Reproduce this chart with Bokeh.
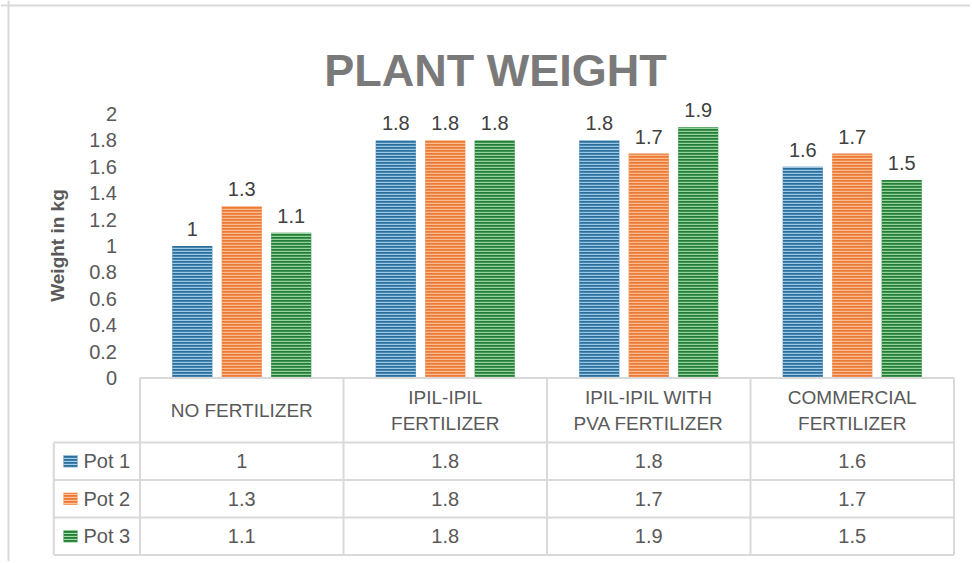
import math
from bokeh.plotting import figure
from bokeh.models import Range1d, LinearAxis, FixedTicker, ColumnDataSource, Label, Span
from bokeh.embed import file_html
from bokeh.resources import INLINE
from bokeh.core.properties import value

# ---------------- data ----------------
categories = ["NO FERTILIZER", "IPIL-IPIL FERTILIZER",
              "IPIL-IPIL WITH PVA FERTILIZER", "COMMERCIAL FERTILIZER"]
category_lines = [["NO FERTILIZER"], ["IPIL-IPIL", "FERTILIZER"],
                  ["IPIL-IPIL WITH", "PVA FERTILIZER"], ["COMMERCIAL", "FERTILIZER"]]
series_names = ["Pot 1", "Pot 2", "Pot 3"]
pot1 = [1.0, 1.8, 1.8, 1.6]
pot2 = [1.3, 1.8, 1.7, 1.7]
pot3 = [1.1, 1.8, 1.9, 1.5]
y_ticks = [0, 0.2, 0.4, 0.6, 0.8, 1, 1.2, 1.4, 1.6, 1.8, 2]
y_tick_labels = ["0", "0.2", "0.4", "0.6", "0.8", "1", "1.2", "1.4", "1.6", "1.8", "2"]

# ---------------- styles ----------------
fill_colors = ["#2c6e9c", "#ec7a35", "#237d36"]
stripe_colors = ["#a6d2ee", "#fcc39d", "#a3dba9"]
FONT = "Liberation Sans"
TXT = "#595959"
GRID = "#d9d9d9"

W, H = 970, 561
# layout (canvas pixel geometry -> data units)
X0, XS = 139.5, 203.5     # x=0 at canvas px 139.5, one category = 203.5 px
Y0, YS = 377.5, 132.0     # y=0 at canvas px 377.5, one unit = 132 px
def dx(px): return (px - X0) / XS
def dy(py): return (Y0 - py) / YS

p = figure(width=W, height=H, output_backend="svg", toolbar_location=None,
           x_axis_location=None, y_axis_location=None,
           x_range=Range1d(dx(0), dx(W)), y_range=Range1d(dy(H), dy(0)),
           min_border=0, outline_line_color=None,
           background_fill_color="white", border_fill_color="white")
p.grid.grid_line_color = None

# y axis placed at x = 0
yaxis = LinearAxis(fixed_location=0, ticker=FixedTicker(ticks=y_ticks),
                   major_label_overrides={t: l for t, l in zip(y_ticks, y_tick_labels)},
                   axis_line_color=None, major_tick_line_color=None,
                   minor_tick_line_color=None, major_tick_out=0, major_tick_in=0,
                   major_label_standoff=23,
                   major_label_text_font=FONT, major_label_text_font_size="20px",
                   major_label_text_color=TXT)
p.add_layout(yaxis, "left")

# bars
offsets = [-0.243, 0.0, 0.243]
bar_w = 0.197
all_series = [pot1, pot2, pot3]
for s, vals in enumerate(all_series):
    xs = [i + 0.5 + offsets[s] for i in range(len(categories))]
    src = ColumnDataSource(dict(x=xs, top=vals, lab=[f"{v:g}" for v in vals]))
    p.vbar(x="x", top="top", width=bar_w, bottom=0, source=src,
           fill_color=fill_colors[s], line_color=None,
           hatch_pattern="horizontal_line", hatch_color=stripe_colors[s],
           hatch_scale=3, hatch_weight=1.5, hatch_alpha=0.9)
    p.text(x="x", y="top", text="lab", source=src, text_align="center",
           text_baseline="alphabetic", y_offset=-17,
           text_font=value(FONT), text_font_size="20px", text_color="#404040")

# ---------------- data table ----------------
n = len(categories)
header_h = 64.5 / YS
row_h = 37.5 / YS
leg_left = dx(53.3)
row_tops = [-header_h - r * row_h for r in range(len(series_names) + 1)]
table_bottom = row_tops[-1]

# horizontal lines
hx0 = [0] + [leg_left] * len(row_tops)
hx1 = [n] * (len(row_tops) + 1)
hy = [0] + row_tops
p.segment(x0=hx0, y0=hy, x1=hx1, y1=hy, line_color=GRID, line_width=2)
# vertical lines
vx = [leg_left] + list(range(n + 1))
vy0 = [row_tops[0]] + [0] * (n + 1)
vy1 = [table_bottom] * (n + 2)
p.segment(x0=vx, y0=vy0, x1=vx, y1=vy1, line_color=GRID, line_width=2)

# header texts
hdr_x, hdr_y, hdr_t, hdr_off = [], [], [], []
for i, lines in enumerate(category_lines):
    k = len(lines)
    for j, t in enumerate(lines):
        hdr_x.append(i + 0.5)
        hdr_y.append(-header_h / 2)
        hdr_t.append(t)
        hdr_off.append((j - (k - 1) / 2) * 26.5)
p.text(x=hdr_x, y=hdr_y, text=hdr_t, y_offset=hdr_off, text_align="center",
       text_baseline="middle", text_font=value(FONT), text_font_size="19px",
       text_color=TXT)

# values
vx_, vy_, vt_ = [], [], []
for s, vals in enumerate(all_series):
    for i, v in enumerate(vals):
        vx_.append(i + 0.5)
        vy_.append(row_tops[s] - row_h / 2)
        vt_.append(f"{v:g}")
p.text(x=vx_, y=vy_, text=vt_, text_align="center", text_baseline="middle",
       text_font=value(FONT), text_font_size="20px", text_color=TXT)

# legend keys
key_y = [row_tops[s] - row_h / 2 for s in range(len(series_names))]
p.rect(x=[dx(70)] * 3, y=key_y, width=14, height=12,
       width_units="screen", height_units="screen",
       fill_color=fill_colors, line_color=None,
       hatch_pattern="horizontal_line", hatch_color=stripe_colors,
       hatch_scale=3, hatch_weight=1.3)
p.text(x=[dx(83)] * 3, y=key_y, text=series_names, text_align="left",
       text_baseline="middle", text_font=value(FONT), text_font_size="20px",
       text_color=TXT)

# title and axis title
p.add_layout(Label(x=dx(495), y=dy(70), text="PLANT WEIGHT", text_align="center",
                   text_baseline="alphabetic", text_font=FONT, text_font_size="45px",
                   text_font_style="bold", text_color="#7a7a7a"))
p.add_layout(Label(x=dx(57), y=dy(245), text="Weight in kg", angle=math.pi / 2,
                   text_align="center", text_baseline="middle", text_font=FONT,
                   text_font_size="19px", text_font_style="bold", text_color=TXT))

# chart border (top and left visible)
p.add_layout(Span(location=dy(5), dimension="width", line_color=GRID, line_width=2))
p.add_layout(Span(location=dx(8), dimension="height", line_color=GRID, line_width=2))

open("out.html", "w").write(file_html(p, INLINE))
